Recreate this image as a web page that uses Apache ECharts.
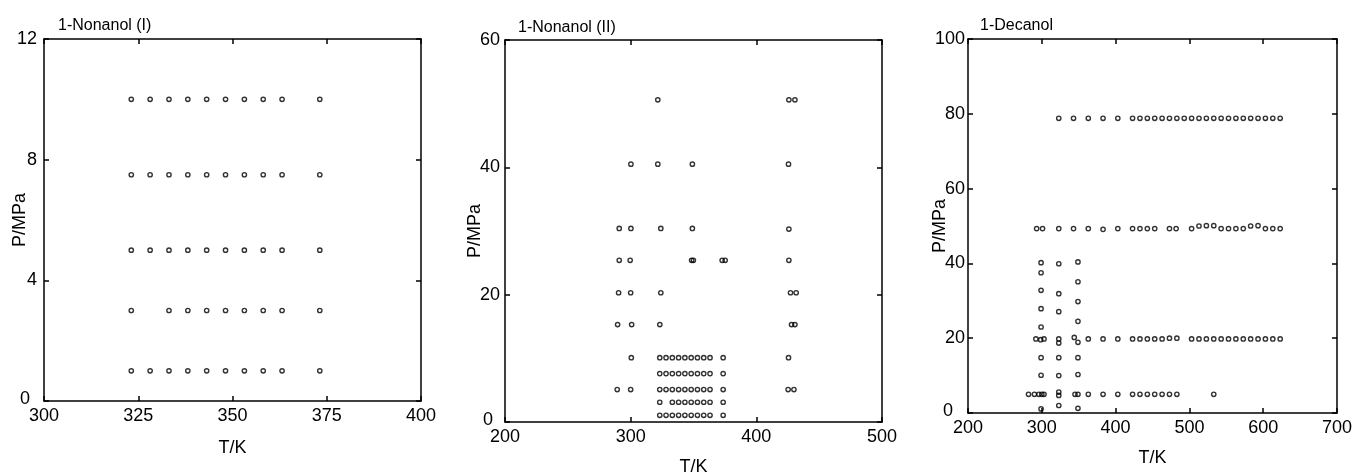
<!DOCTYPE html>
<html>
<head>
<meta charset="utf-8">
<script src="https://cdn.jsdelivr.net/npm/echarts@6/dist/echarts.min.js"></script>
<style>
html,body{margin:0;padding:0;background:#fff;}
#chart{width:1352px;height:474px;}
</style>
</head>
<body>
<div id="chart"></div>
<script>
// ---------- data ----------
const panelTitles = ['1-Nonanol (I)', '1-Nonanol (II)', '1-Decanol'];
const xAxisName = 'T/K';
const yAxisName = 'P/MPa';
// [min, max, interval]
const xRanges = [[300, 400, 25], [200, 500, 100], [200, 700, 100]];
const yRanges = [[0, 12, 4], [0, 60, 20], [0, 100, 20]];

// 1-Nonanol (I): [T/K, P/MPa]
const nonanolI = [
  [323.15,10],[328.15,10],[333.15,10],[338.15,10],[343.15,10],[348.15,10],[353.15,10],[358.15,10],[363.15,10],[373.15,10],
  [323.15,7.5],[328.15,7.5],[333.15,7.5],[338.15,7.5],[343.15,7.5],[348.15,7.5],[353.15,7.5],[358.15,7.5],[363.15,7.5],[373.15,7.5],
  [323.15,5],[328.15,5],[333.15,5],[338.15,5],[343.15,5],[348.15,5],[353.15,5],[358.15,5],[363.15,5],[373.15,5],
  [323.15,3],[333.15,3],[338.15,3],[343.15,3],[348.15,3],[353.15,3],[358.15,3],[363.15,3],[373.15,3],
  [323.15,1],[328.15,1],[333.15,1],[338.15,1],[343.15,1],[348.15,1],[353.15,1],[358.15,1],[363.15,1],[373.15,1]
];

// 1-Nonanol (II)
const nonanolII = [
  [321.6,50.6],[425.9,50.6],[430.7,50.6],
  [300.2,40.5],[321.6,40.5],[349.1,40.5],[425.6,40.5],
  [290.9,30.4],[300.2,30.4],[324.0,30.4],[349.1,30.4],[425.9,30.3],
  [290.9,25.4],[299.6,25.4],[348.5,25.4],[349.9,25.4],[372.8,25.4],[375.2,25.4],[425.9,25.4],
  [290.4,20.3],[300.0,20.3],[324.0,20.3],[427.2,20.3],[431.7,20.3],
  [289.6,15.3],[300.8,15.3],[323.2,15.3],[428.0,15.3],[430.7,15.3],
  [300.5,10.1],[323.15,10.1],[328.15,10.1],[333.15,10.1],[338.15,10.1],[343.15,10.1],[348.15,10.1],[353.15,10.1],[358.15,10.1],[363.15,10.1],[373.6,10.1],[425.6,10.1],
  [323.15,7.6],[328.15,7.6],[333.15,7.6],[338.15,7.6],[343.15,7.6],[348.15,7.6],[353.15,7.6],[358.15,7.6],[363.15,7.6],[373.6,7.6],
  [289.3,5.1],[300.0,5.1],[323.15,5.1],[328.15,5.1],[333.15,5.1],[338.15,5.1],[343.15,5.1],[348.15,5.1],[353.15,5.1],[358.15,5.1],[363.15,5.1],[373.6,5.1],[425.3,5.1],[429.9,5.1],
  [323.15,3.1],[333.15,3.1],[338.15,3.1],[343.15,3.1],[348.15,3.1],[353.15,3.1],[358.15,3.1],[363.15,3.1],[373.6,3.1],
  [323.15,1.05],[328.15,1.05],[333.15,1.05],[338.15,1.05],[343.15,1.05],[348.15,1.05],[353.15,1.05],[358.15,1.05],[363.15,1.05],[373.6,1.05]
];

// 1-Decanol
const decanol = [
  [323,78.8],[343,78.8],[363,78.8],[383,78.8],[403,78.8],[423,78.8],[433,78.8],[443,78.8],[453,78.8],[463,78.8],[473,78.8],
  [483,78.8],[493,78.8],[503,78.8],[513,78.8],[523,78.8],[533,78.8],[543,78.8],[553,78.8],[563,78.8],[573,78.8],[583,78.8],
  [593,78.8],[603,78.8],[613,78.8],[623,78.8],
  [293,49.3],[301,49.3],[323,49.3],[343,49.3],[363,49.3],[383,49.1],[403,49.3],[423,49.3],[433,49.3],[443,49.3],[453,49.3],
  [473,49.3],[482,49.3],[503,49.3],[513,50.0],[523,50.1],[533,50.1],[543,49.3],[553,49.3],[563,49.3],[573,49.3],[583,50.0],
  [593,50.1],[603,49.3],[613,49.3],[623,49.3],
  [292,19.8],[298.5,19.6],[303,19.8],[323,19.8],[323,18.7],[344,20.2],[349,18.9],[363,19.8],[383,19.8],[403,19.8],[423,19.8],
  [433,19.8],[443,19.8],[453,19.8],[463,19.8],[473,20.0],[483,20.0],[503,19.8],[513,19.8],[523,19.8],[533,19.8],[543,19.8],
  [553,19.8],[563,19.8],[573,19.8],[583,19.8],[593,19.8],[603,19.8],[613,19.8],[623,19.8],
  [282,5],[290,5],[296,5],[300,5],[303,5],[323,5.6],[323,4.7],[345,5],[349,5],[363,5],[383,5],[403,5],[423,5],[433,5],
  [443,5],[453,5],[463,5],[473,5],[483,5],[533,5],
  [299,40.2],[299,37.5],[299,32.8],[299,27.9],[299,23.0],[299,14.8],[299,10.1],[299,1.1],
  [323,39.9],[323,31.9],[323,27.1],[323,14.8],[323,10.0],[323,2.0],
  [349,40.4],[349,35.1],[349,29.8],[349,24.5],[349,14.8],[349,10.3],[349,1.25]
];
const panelData = [nonanolI, nonanolII, decanol];

// ---------- layout ----------
const FONT = 'Liberation Sans';
const grids = [
  {left: 44, top: 39, width: 377, height: 362, outerBoundsMode: 'none', containLabel: false},
  {left: 505, top: 40, width: 377, height: 382, outerBoundsMode: 'none', containLabel: false},
  {left: 968, top: 39, width: 369, height: 374, outerBoundsMode: 'none', containLabel: false}
];
const titlePos = [{left: 53, top: 13}, {left: 513, top: 15}, {left: 975, top: 13}];
const xNameGap = [38, 36, 36];
const yNameGap = [15, 21, 19];
const yLabelMargin = [7, 5, 3];
const zeroPad = [7, 7, 12];

const lineStyle = {color: '#000', width: 1.5};
const xAxes = [], yAxes = [], series = [], titles = [];

grids.forEach((g, i) => {
  const [xmin, xmax, xint] = xRanges[i];
  const [ymin, ymax, yint] = yRanges[i];
  titles.push({
    text: panelTitles[i], left: titlePos[i].left, top: titlePos[i].top,
    textStyle: {fontFamily: FONT, fontSize: 16, fontWeight: 'normal', color: '#000'}
  });
  ['bottom', 'top'].forEach(pos => {
    xAxes.push({
      gridIndex: i, type: 'value', position: pos, min: xmin, max: xmax, interval: xint,
      axisLine: {show: true, onZero: false, lineStyle},
      axisTick: {show: true, inside: true, length: 5, lineStyle},
      splitLine: {show: false},
      axisLabel: {show: pos === 'bottom', margin: 6, fontFamily: FONT, fontSize: 18, color: '#000'},
      name: pos === 'bottom' ? xAxisName : '',
      nameLocation: 'middle', nameGap: xNameGap[i], nameMoveOverlap: false,
      nameTextStyle: {fontFamily: FONT, fontSize: 18, color: '#000'}
    });
  });
  ['left', 'right'].forEach(pos => {
    yAxes.push({
      gridIndex: i, type: 'value', position: pos, min: ymin, max: ymax, interval: yint,
      axisLine: {show: true, onZero: false, lineStyle},
      axisTick: {show: true, inside: true, length: 5, lineStyle},
      splitLine: {show: false},
      axisLabel: {
        show: pos === 'left', margin: yLabelMargin[i], fontFamily: FONT, fontSize: 18, color: '#000',
        formatter: v => v === 0 ? '{z|0}' : String(v),
        rich: {z: {fontFamily: FONT, fontSize: 18, color: '#000', padding: [0, zeroPad[i], 4, 0]}}
      },
      name: pos === 'left' ? yAxisName : '',
      nameLocation: 'middle', nameGap: yNameGap[i], nameRotate: 90, nameMoveOverlap: false,
      nameTextStyle: {fontFamily: FONT, fontSize: 18, color: '#000'}
    });
  });
  series.push({
    type: 'scatter', xAxisIndex: i * 2, yAxisIndex: i * 2,
    data: panelData[i], symbol: 'circle', symbolSize: 4.3,
    itemStyle: {color: 'rgba(0,0,0,0)', borderColor: '#000', borderWidth: 1.4},
    emphasis: {disabled: true}, silent: true
  });
});

const chart = echarts.init(document.getElementById('chart'), null, {renderer: 'canvas'});
chart.setOption({
  backgroundColor: '#fff',
  animation: false,
  title: titles,
  grid: grids,
  xAxis: xAxes,
  yAxis: yAxes,
  series: series
});
</script>
</body>
</html>
